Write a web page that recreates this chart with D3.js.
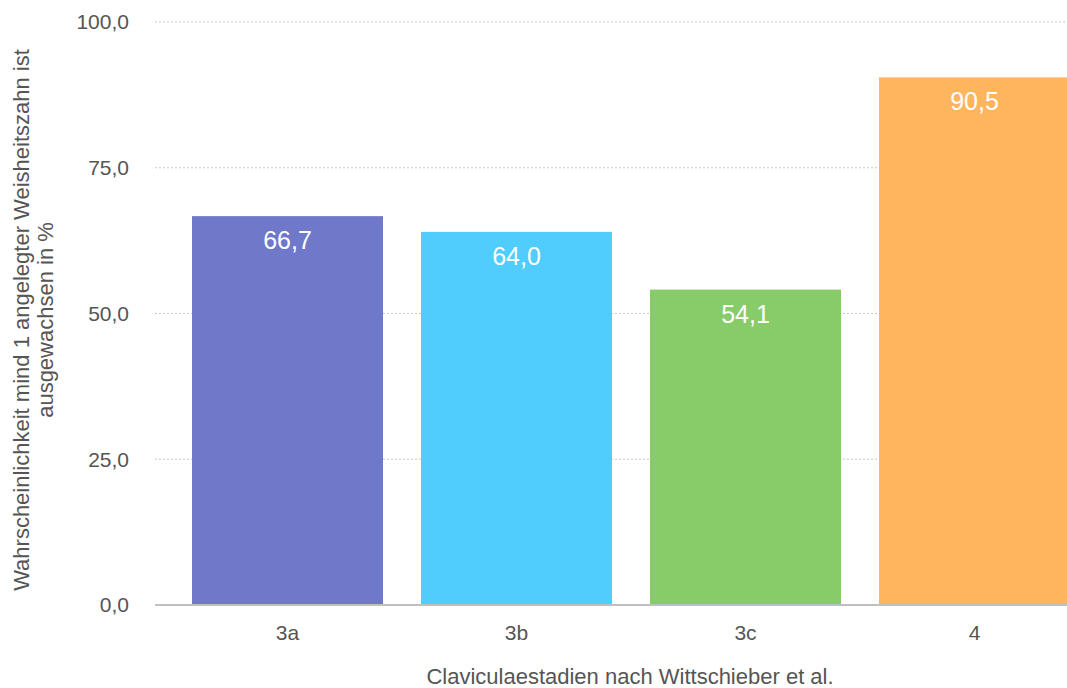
<!DOCTYPE html>
<html>
<head>
<meta charset="utf-8">
<script src="https://cdn.jsdelivr.net/npm/d3@7"></script>
<style>
	body { margin: 0; background: #fff; }
	svg { display: block; font-family: "Liberation Sans", Arial, sans-serif; }
</style>
</head>
<body>
<svg id="chart"></svg>
<script>
const categories = ["3a", "3b", "3c", "4"];
const values = [66.7, 64.0, 54.1, 90.5];
const colors = ["#6f78c9", "#50cdfd", "#88cc6a", "#ffb55e"];
const yTicks = [0, 25, 50, 75, 100];

const width = 1067, height = 688;
const fmt = (v) => d3.format(".1f")(v).replace(".", ",");

const svg = d3.select("#chart").attr("width", width).attr("height", height);

const x = d3.scaleBand()
	.domain(categories)
	.range([173, 1089])
	.paddingInner(0.166)
	.paddingOuter(0.083);

const y = d3.scaleLinear().domain([0, 100]).range([605, 22]);

// grid lines
svg.append("g")
	.selectAll("line")
	.data(yTicks.filter(d => d > 0))
	.join("line")
	.attr("x1", 155).attr("x2", width)
	.attr("y1", d => y(d)).attr("y2", d => y(d))
	.attr("stroke", "#c8c8c8")
	.attr("stroke-width", 1)
	.attr("stroke-dasharray", "2,2");

// y tick labels
svg.append("g")
	.selectAll("text")
	.data(yTicks)
	.join("text")
	.attr("x", 129)
	.attr("y", d => y(d))
	.attr("dy", "0.35em")
	.attr("text-anchor", "end")
	.attr("font-size", 21)
	.attr("fill", "#555")
	.text(fmt);

// bars
svg.append("g")
	.selectAll("rect")
	.data(values)
	.join("rect")
	.attr("x", (d, i) => x(categories[i]))
	.attr("y", d => y(d))
	.attr("width", x.bandwidth())
	.attr("height", d => y(0) - y(d))
	.attr("fill", (d, i) => colors[i]);

// bar labels
svg.append("g")
	.selectAll("text")
	.data(values)
	.join("text")
	.attr("x", (d, i) => x(categories[i]) + x.bandwidth() / 2)
	.attr("y", d => y(d) + 33)
	.attr("text-anchor", "middle")
	.attr("font-size", 25)
	.attr("fill", "#fff")
	.text(fmt);

// baseline
svg.append("line")
	.attr("x1", 155).attr("x2", width)
	.attr("y1", y(0)).attr("y2", y(0))
	.attr("stroke", "#c0c0c0")
	.attr("stroke-width", 2);

// x tick labels
svg.append("g")
	.selectAll("text")
	.data(categories)
	.join("text")
	.attr("x", d => x(d) + x.bandwidth() / 2)
	.attr("y", 640)
	.attr("text-anchor", "middle")
	.attr("font-size", 21)
	.attr("fill", "#555")
	.text(d => d);

// axis titles
svg.append("text")
	.attr("x", 630)
	.attr("y", 684)
	.attr("text-anchor", "middle")
	.attr("font-size", 22)
	.attr("fill", "#555")
	.text("Claviculaestadien nach Wittschieber et al.");

const yTitle = svg.append("text")
	.attr("transform", "translate(0,320) rotate(-90)")
	.attr("text-anchor", "middle")
	.attr("font-size", 22)
	.attr("fill", "#555");
yTitle.append("tspan").attr("x", 0).attr("y", 29)
	.text("Wahrscheinlichkeit mind 1 angelegter Weisheitszahn ist");
yTitle.append("tspan").attr("x", 0).attr("y", 53)
	.text("ausgewachsen in %");
</script>
</body>
</html>
